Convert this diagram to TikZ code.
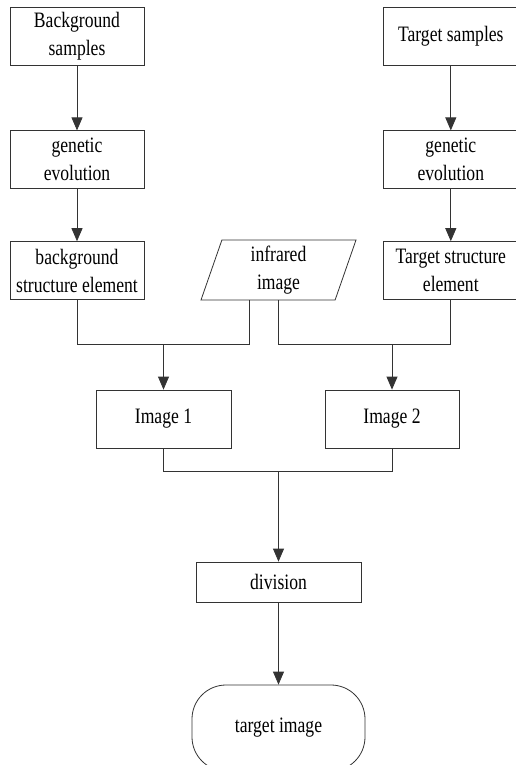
\documentclass[tikz,border=0pt]{standalone}
\usepackage{fontspec}
\newfontfamily\narrowserif[FakeStretch=0.8]{Liberation Serif}
\newcommand{\boxfont}{\narrowserif\fontsize{22}{28}\selectfont}
\usetikzlibrary{positioning,shapes.geometric,arrows.meta}

\tikzstyle{box} = [rectangle, minimum width=134pt, minimum height=58pt, inner sep=2pt, align=center, draw=black!80, line width=0.8pt, font=\boxfont]
\tikzstyle{data} = [trapezium, trapezium left angle=68.2, trapezium right angle=111.8, trapezium stretches body=true, minimum width=155pt, minimum height=60pt, inner sep=2pt, align=center, draw=black!80, line width=0.8pt, font=\boxfont]
\tikzstyle{terminal} = [rectangle, rounded corners=34pt, minimum width=173pt, minimum height=86pt, inner sep=2pt, align=center, draw=black!80, line width=0.8pt, font=\boxfont]
\tikzstyle{line} = [draw=black!80, line width=0.8pt]
\tikzstyle{arrow} = [line, -{Triangle[length=13pt,width=11pt]}]

\begin{document}
\begin{tikzpicture}[x=1pt, y=-1pt]
  \useasboundingbox (0,0) rectangle (516,765);

  \node (Background samples) [box] at (77,36) {Background\\samples};
  \node (genetic evolution 1) [box, below=65pt of Background samples] {genetic\\evolution};
  \node (background structure element) [box, below=52pt of genetic evolution 1] {background\\structure element};
  \node (Target samples) [box, right=239pt of Background samples] {Target samples};
  \node (genetic evolution 2) [box, below=65pt of Target samples] {genetic\\evolution};
  \node (Target structure element) [box, below=52pt of genetic evolution 2] {Target structure\\element};
  \node (infrared image) [data] at (278.5,270) {infrared\\image};
  \node (Image 1) [box, minimum width=135pt] at (163.5,419) {Image 1};
  \node (Image 2) [box] at (392,419) {Image 2};
  \node (division) [box, minimum width=165pt, minimum height=40pt] at (278.5,582) {division};
  \node (target image) [terminal] at (278.5,728) {target image};

  \coordinate (left join) at ([yshift=45pt]Image 1.north);
  \coordinate (right join) at ([yshift=45pt]Image 2.north);
  \coordinate (bottom join) at ([yshift=90pt]division.north);

  \draw [arrow] (Background samples) -- (genetic evolution 1);
  \draw [arrow] (genetic evolution 1) -- (background structure element);
  \draw [arrow] (Target samples) -- (genetic evolution 2);
  \draw [arrow] (genetic evolution 2) -- (Target structure element);
  \draw [line] (background structure element) |- (left join) -| ([xshift=-29.5pt]infrared image.south);
  \draw [line] (infrared image.south) |- (right join) -| (Target structure element);
  \draw [arrow] (left join) -- (Image 1);
  \draw [arrow] (right join) -- (Image 2);
  \draw [line] (Image 1) |- (bottom join) -| (Image 2);
  \draw [arrow] (bottom join) -- (division);
  \draw [arrow] (division) -- (target image);
\end{tikzpicture}
\end{document}
